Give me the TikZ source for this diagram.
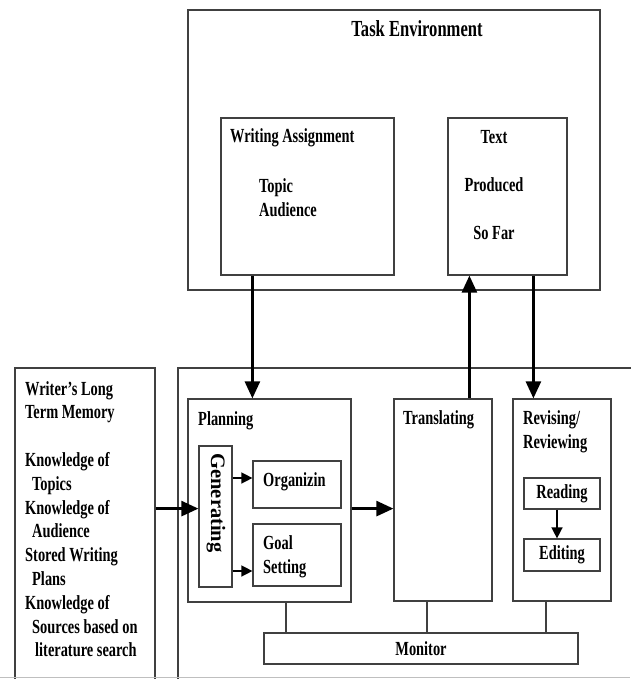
\documentclass[tikz,border=0pt]{standalone}
\usepackage{fontspec}
\setmainfont{Liberation Serif}[FakeStretch=0.72]
\newfontfamily\genfont{Liberation Serif}
\usetikzlibrary{arrows.meta}

\begin{document}
\begin{tikzpicture}[x=1pt,y=-1pt,
  box/.style={draw=black!75,line width=1.2pt,rectangle,inner sep=0pt,font=\bfseries\fontsize{20}{24}\selectfont},
  txt/.style={inner sep=0pt,align=left,font=\bfseries\fontsize{20}{24}\selectfont},
  big arrow/.style={line width=2.6pt,-{Triangle[length=17pt,width=15pt]}},
  small arrow/.style={line width=1.4pt,-{Triangle[length=11pt,width=11pt]}},
  link/.style={draw=black!75,line width=1.2pt}]

  \useasboundingbox (0,0) rectangle (630,679);

  % task environment
  \node[box,minimum width=412pt,minimum height=280pt] (task) at (394,150) {};
  \node[box,minimum width=173pt,minimum height=157pt] (assign) at (307.5,196.5) {};
  \node[box,minimum width=119pt,minimum height=157pt] (produced) at (507.5,196.5) {};

  \node[txt,anchor=base,font=\bfseries\fontsize{23}{28}\selectfont] (tasktxt) at (417,37) {Task Environment};
  \node[txt,anchor=base west] (assigntxt) at (230,143) {Writing Assignment};
  \node[txt,anchor=north west] (topictxt) at (259,178) {Topic\\Audience};
  \node[txt,anchor=north,align=center] (producedtxt) at (494,130.5) {Text\\[24pt]Produced\\[24pt]So Far};

  % long term memory
  \node[box,minimum width=140pt,minimum height=317pt] (ltm) at (85,526.5) {};
  \node[txt,anchor=north west,font=\bfseries\fontsize{20}{23.8}\selectfont] (ltmtxt) at (25,381)
    {Writer's Long\\Term Memory\\[23.8pt]Knowledge of\\\hspace*{7pt}Topics\\Knowledge of\\\hspace*{7pt}Audience\\
     Stored Writing\\\hspace*{7pt}Plans\\Knowledge of\\\hspace*{7pt}Sources based on\\\hspace*{10pt}literature search};

  % writing process
  \node[box,minimum width=462pt,minimum height=317pt] (process) at (409,526.5) {};

  \node[box,minimum width=163pt,minimum height=203pt] (plan) at (269.5,500.5) {};
  \node[box,minimum width=33pt,minimum height=141pt] (gen) at (215.5,516.5) {};
  \node[box,minimum width=88pt,minimum height=47pt] (org) at (297,484.5) {};
  \node[box,minimum width=88pt,minimum height=62pt] (goal) at (297,555) {};
  \node[box,minimum width=98pt,minimum height=202pt] (trans) at (443,500) {};
  \node[box,minimum width=98pt,minimum height=202pt] (rev) at (562,500) {};
  \node[box,minimum width=76pt,minimum height=31pt] (read) at (562,493.5) {Reading};
  \node[box,minimum width=76pt,minimum height=32pt] (edit) at (562,555) {Editing};
  \node[box,minimum width=314pt,minimum height=31pt] (monitor) at (421,648.5) {Monitor};

  \node[txt,anchor=base west] (plantxt) at (198,425) {Planning};
  \node[txt,rotate=-90,font=\genfont\bfseries\fontsize{20.5}{24}\selectfont] (gentxt) at (216,503) {Generating};
  \node[txt,anchor=base west] (orgtxt) at (263,486) {Organizin};
  \node[txt,anchor=north west] (goaltxt) at (263,535.5) {Goal\\Setting};
  \node[txt,anchor=base west] (transtxt) at (403,424) {Translating};
  \node[txt,anchor=north west] (revtxt) at (523,410) {Revising/\\Reviewing};

  % connectors
  \coordinate (wa) at ([xshift=32pt]assign.south west);
  \coordinate (tu) at ([xshift=76pt]trans.north west);
  \coordinate (td) at ([xshift=86pt]produced.south west);
  \draw[big arrow] (wa) -- (wa |- plan.north);
  \draw[big arrow] (tu) -- (tu |- produced.south);
  \draw[big arrow] (td) -- (td |- rev.north);
  \draw[big arrow] (ltm.east |- org.south) -- (gen.west |- org.south);
  \draw[big arrow] (plan.east |- org.south) -- (trans.west |- org.south);

  \coordinate (go) at ([yshift=6.5pt]org.west);
  \coordinate (gs) at ([yshift=-16pt]goal.west);
  \draw[small arrow] (go -| gen.east) -- (go);
  \draw[small arrow] (gs -| gen.east) -- (gs);
  \coordinate (re) at ([xshift=-5pt]read.south);
  \draw[small arrow] (re) -- (re |- edit.north);

  \coordinate (pm) at ([xshift=16.5pt]plan.south);
  \coordinate (tm) at ([xshift=-16pt]trans.south);
  \coordinate (rm) at ([xshift=-16pt]rev.south);
  \draw[link] (pm) -- (pm |- monitor.north);
  \draw[link] (tm) -- (tm |- monitor.north);
  \draw[link] (rm) -- (rm |- monitor.north);

  \draw[black!25,line width=1pt] (0,677) -- (630,677);
\end{tikzpicture}
\end{document}
